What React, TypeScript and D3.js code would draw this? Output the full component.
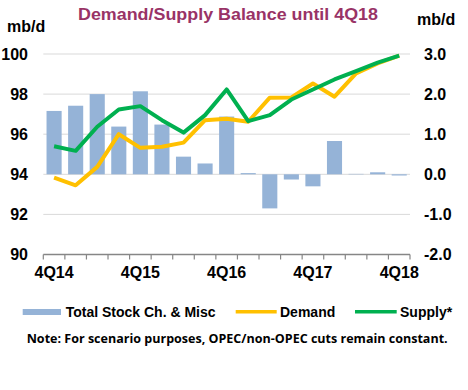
import React from 'react';
import * as d3 from 'd3';

const categories = ['4Q14','1Q15','2Q15','3Q15','4Q15','1Q16','2Q16','3Q16','4Q16','1Q17','2Q17','3Q17','4Q17','1Q18','2Q18','3Q18','4Q18'];
const xLabels = ['4Q14','4Q15','4Q16','4Q17','4Q18'];
const stockChange = [1.58, 1.71, 2.0, 1.19, 2.07, 1.24, 0.44, 0.27, 1.44, 0.03, -0.85, -0.13, -0.3, 0.83, 0.01, 0.05, -0.03];
const demand = [93.83, 93.45, 94.37, 96.0, 95.32, 95.37, 95.58, 96.7, 96.77, 96.62, 97.82, 97.83, 98.53, 97.87, 99.03, 99.53, 99.92];
const supply = [95.4, 95.17, 96.37, 97.23, 97.4, 96.7, 96.08, 96.95, 98.23, 96.65, 96.95, 97.73, 98.23, 98.73, 99.15, 99.57, 99.92];
const leftTicks = [90, 92, 94, 96, 98, 100];
const rightTicks = [-2, -1, 0, 1, 2, 3];

const FONT = '"Liberation Sans", Arial, sans-serif';
const BAR = '#95B3D7';
const DEM = '#FFC000';
const SUP = '#00B050';

export default function App() {
  const left = 43.3, right = 410, top = 54, bottom = 254.5;
  const x = d3.scaleBand<string>().domain(categories).range([left, right]).paddingInner(0.3).paddingOuter(0.15);
  const yL = d3.scaleLinear().domain([90, 100]).range([bottom, top]);
  const yR = d3.scaleLinear().domain([-2, 3]).range([bottom, top]);
  const step = x.step();
  const cx = (c: string) => (x(c) as number) + x.bandwidth() / 2;
  const line = d3.line<number>().x((_, i) => cx(categories[i])).y(v => yL(v));
  const boundaries = d3.range(categories.length + 1).map(i => left + i * step);

  return (
    <svg width={468} height={390} style={{ position: 'absolute', left: 0, top: 0 }} fontFamily={FONT}>
      <rect width={468} height={390} fill="#fff" />
      <text x={78} y={20} fontSize={16.5} fontWeight="bold" fill="#993366" textLength={300} lengthAdjust="spacingAndGlyphs">Demand/Supply Balance until 4Q18</text>
      <text x={7} y={31.5} fontSize={16} fontWeight="bold" fill="#000">mb/d</text>
      <text x={417} y={25} fontSize={16} fontWeight="bold" fill="#000">mb/d</text>

      {leftTicks.filter(t => t > 90).map(t => (
        <line key={t} x1={left} x2={right} y1={yL(t)} y2={yL(t)} stroke="#D9D9D9" strokeWidth={1} />
      ))}
      {leftTicks.map(t => (
        <text key={t} x={28} y={yL(t)} dy="0.36em" textAnchor="end" fontSize={16} fontWeight="bold">{t}</text>
      ))}
      {rightTicks.map(t => (
        <text key={t} x={424} y={yR(t)} dy="0.36em" textAnchor="start" fontSize={16} fontWeight="bold">{t.toFixed(1)}</text>
      ))}

      {stockChange.map((v, i) => (
        <rect key={i} x={x(categories[i])} width={x.bandwidth()} y={Math.min(yR(v), yR(0))} height={Math.abs(yR(v) - yR(0))} fill={BAR} />
      ))}

      <line x1={left} x2={right} y1={bottom} y2={bottom} stroke="#868686" strokeWidth={1.5} />
      {boundaries.map((b, i) => (
        <line key={i} x1={b} x2={b} y1={bottom} y2={bottom + 5} stroke="#868686" strokeWidth={1.2} />
      ))}
      {xLabels.map(l => (
        <text key={l} x={cx(l)} y={278} textAnchor="middle" fontSize={16} fontWeight="bold">{l}</text>
      ))}

      <path d={line(demand) || ''} fill="none" stroke={DEM} strokeWidth={4} strokeLinejoin="round" />
      <path d={line(supply) || ''} fill="none" stroke={SUP} strokeWidth={4} strokeLinejoin="round" />

      <rect x={22.7} y={309} width={38.3} height={6} fill={BAR} />
      <text x={65.7} y={316.5} fontSize={14} fontWeight="bold">Total Stock Ch. &amp; Misc</text>
      <line x1={235.7} x2={276.7} y1={311.7} y2={311.7} stroke={DEM} strokeWidth={3.5} />
      <text x={280} y={316.5} fontSize={14} fontWeight="bold">Demand</text>
      <line x1={355} x2={396.7} y1={311.7} y2={311.7} stroke={SUP} strokeWidth={3.5} />
      <text x={400} y={316.5} fontSize={14} fontWeight="bold">Supply*</text>

      <text x={26.7} y={342.5} fontSize={13} fontWeight="bold" fontFamily='"Open Sans", "Noto Sans", sans-serif' textLength={421} lengthAdjust="spacingAndGlyphs">Note: For scenario purposes, OPEC/non-OPEC cuts remain constant.</text>
    </svg>
  );
}
